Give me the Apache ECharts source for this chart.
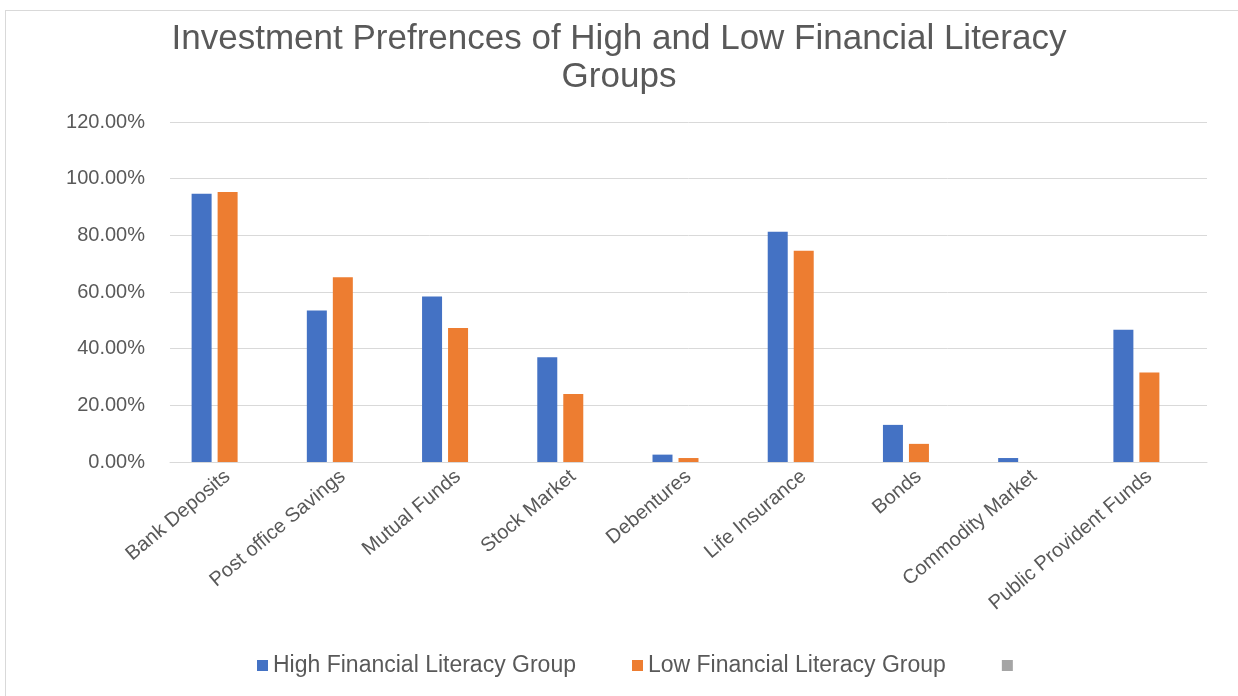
<!DOCTYPE html>
<html>
<head>
<meta charset="utf-8">
<script src="https://cdn.jsdelivr.net/npm/echarts@6/dist/echarts.min.js"></script>
<style>
  html, body { margin: 0; padding: 0; background: #fff; }
  #frame {
    position: absolute; left: 5px; top: 10px; width: 1260px; height: 720px;
    border: 1px solid #d9d9d9; box-sizing: border-box;
  }
  #chart { position: absolute; left: 0; top: 0; width: 1238px; height: 696px; }
</style>
</head>
<body>
<div id="frame"></div>
<div id="chart"></div>
<script>
const categories = ["Bank Deposits", "Post office Savings", "Mutual Funds", "Stock Market",
  "Debentures", "Life Insurance", "Bonds", "Commodity Market", "Public Provident Funds"];
const highGroup = [0.947, 0.535, 0.584, 0.370, 0.026, 0.813, 0.131, 0.014, 0.467];
const lowGroup = [0.953, 0.652, 0.473, 0.240, 0.014, 0.746, 0.064, 0, 0.316];
const emptyGroup = [null, null, null, null, null, null, null, null, null];

const font = "'Liberation Sans', sans-serif";

const chart = echarts.init(document.getElementById("chart"));
chart.setOption({
  animation: false,
  title: {
    text: "Investment Prefrences of High and Low Financial Literacy\nGroups",
    left: "center",
    top: 15,
    textStyle: { fontFamily: font, fontSize: 35, fontWeight: "normal", color: "#595959", lineHeight: 38 }
  },
  legend: {
    bottom: 14,
    left: 252,
    itemWidth: 11,
    itemHeight: 11,
    itemGap: 56,
    icon: "rect",
    textStyle: { fontFamily: font, fontSize: 23, color: "#595959" },
    data: ["High Financial Literacy Group", "Low Financial Literacy Group", " "]
  },
  grid: { left: 170, right: 31, top: 122, bottom: 234 },
  xAxis: {
    type: "category",
    data: categories,
    axisLine: { lineStyle: { color: "#d9d9d9" } },
    axisTick: { show: false },
    axisLabel: { rotate: 40, fontFamily: font, fontSize: 20, color: "#595959", margin: 12, interval: 0 }
  },
  yAxis: {
    type: "value",
    min: 0,
    max: 1.2,
    interval: 0.2,
    axisLabel: {
      fontFamily: font, fontSize: 20, color: "#595959", margin: 25,
      formatter: v => (v * 100).toFixed(2) + "%"
    },
    splitLine: { lineStyle: { color: "#d9d9d9" } }
  },
  series: [
    { name: "High Financial Literacy Group", type: "bar", data: highGroup, barWidth: 20, barGap: "30%",
      itemStyle: { color: "#4472c4" } },
    { name: "Low Financial Literacy Group", type: "bar", data: lowGroup, barWidth: 20, barGap: "30%",
      itemStyle: { color: "#ed7d31" } },
    { name: " ", type: "bar", data: emptyGroup, barWidth: 20, barGap: "30%",
      itemStyle: { color: "#a5a5a5" } }
  ]
});
</script>
</body>
</html>
